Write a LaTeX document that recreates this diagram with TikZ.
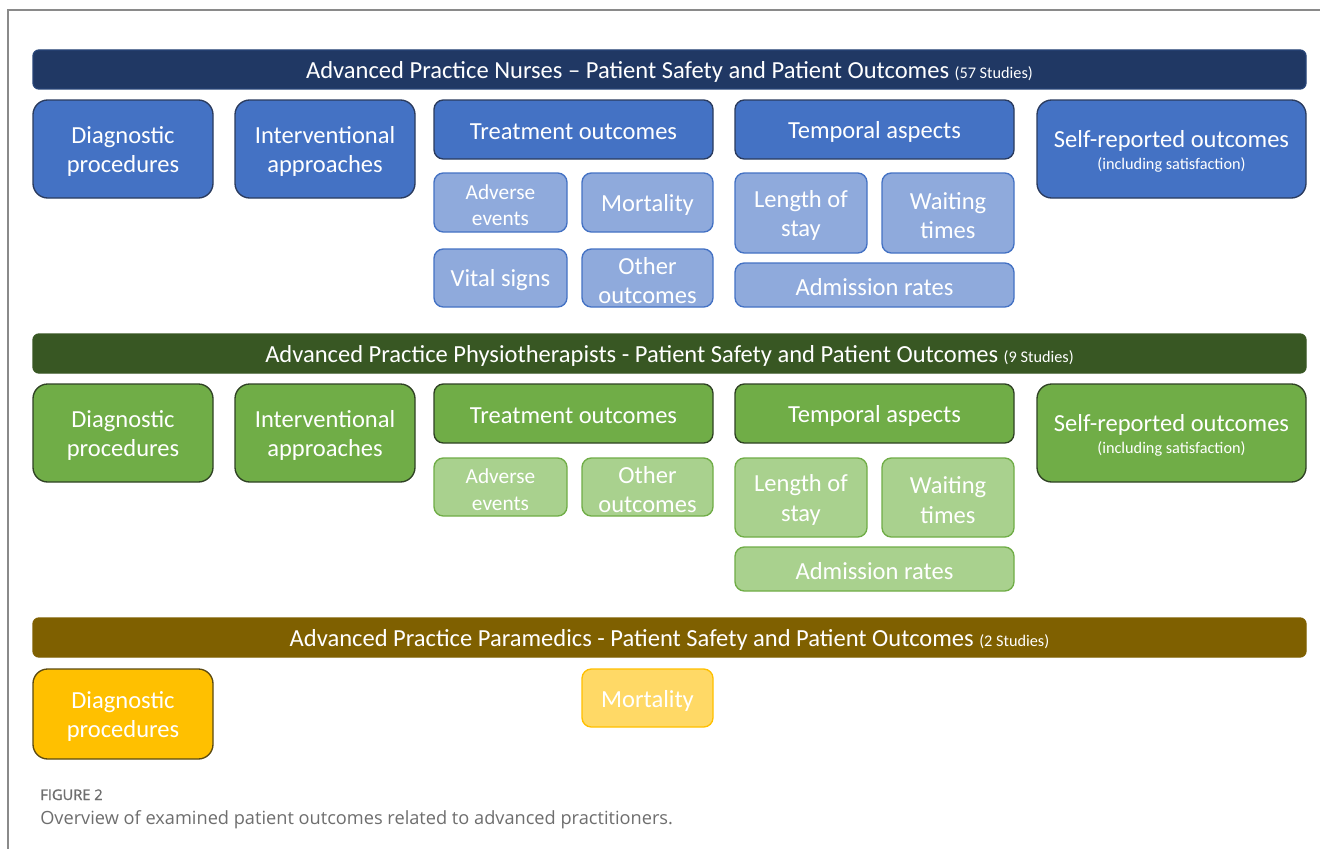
\documentclass[tikz,border=0pt]{standalone}
\usepackage{fontspec}
\setmainfont{Carlito}
\newfontfamily\capfont{Open Sans}
\newfontfamily\capfontb[FakeBold=1.2]{Open Sans}
\usepackage{xcolor}
\definecolor{navy}{HTML}{203864}
\definecolor{blueM}{HTML}{4472C4}
\definecolor{blueB}{HTML}{2A3B5E}
\definecolor{blueS}{HTML}{8FAADC}
\definecolor{greenH}{HTML}{385723}
\definecolor{greenM}{HTML}{70AD47}
\definecolor{greenB}{HTML}{2F4224}
\definecolor{greenS}{HTML}{A9D18E}
\definecolor{goldH}{HTML}{7F6000}
\definecolor{goldM}{HTML}{FFC000}
\definecolor{goldB}{HTML}{5C4A10}
\definecolor{goldS}{HTML}{FFD966}
\definecolor{frameC}{HTML}{8A8A8A}
\definecolor{capC}{HTML}{6E6E6E}
\newcommand\bx[7]{%
  \node[#2, minimum width={(#5-#3)*0.75pt}, minimum height={(#6-#4)*0.75pt}] (#1) at ({(#3+#5)/2},{(#4+#6)/2}) {};
  \node[#2, draw=none, fill=none, yshift=-1.9pt] (#1-t) at (#1.center) {#7};}
\tikzset{
  base/.style={inner sep=0pt, align=center, text=white, line width=1pt},
  hdr/.style={base, rounded corners=4.5pt, font=\fontsize{18.4}{22}\selectfont},
  mainbox/.style={base, rounded corners=11pt, font=\fontsize{18.4}{21.75}\selectfont},
  midbox/.style={base, rounded corners=7pt, font=\fontsize{18.4}{22}\selectfont},
  subbox/.style={base, rounded corners=7pt, font=\fontsize{18.4}{22}\selectfont},
  hN/.style={hdr, fill=navy, draw=navy!80!blueM},
  mB/.style={mainbox, fill=blueM, draw=blueB},
  tB/.style={midbox, fill=blueM, draw=blueB},
  sB/.style={subbox, fill=blueS, draw=blueM},
  hG/.style={hdr, fill=greenH, draw=greenH},
  mG/.style={mainbox, fill=greenM, draw=greenB},
  tG/.style={midbox, fill=greenM, draw=greenB},
  sG/.style={subbox, fill=greenS, draw=greenM},
  hY/.style={hdr, fill=goldH, draw=goldH},
  mY/.style={mainbox, fill=goldM, draw=goldB},
  sY/.style={subbox, fill=goldS, draw=goldM},
}
\newcommand\sm[1]{{\fontsize{12.2}{14}\selectfont #1}}
\newcommand\sa[1]{{\fontsize{16}{19.5}\selectfont #1}}
\begin{document}
\begin{tikzpicture}[x=0.75pt,y=-0.75pt]
\useasboundingbox (0,0) rectangle (1320,849);
\fill[white] (0,0) rectangle (1320,849);
\draw[frameC, line width=1.3pt] (8,849) -- (8,10) -- (1320,10);
% Nurses
\bx{h1}{hN}{33}{50}{1306}{89}{Advanced Practice Nurses -- Patient Safety and Patient Outcomes \sm{(57 Studies)}}
\bx{n1}{mB}{33}{100}{213}{198}{Diagnostic\\procedures}
\bx{n2}{mB}{235}{100}{415}{198}{Interventional\\approaches}
\bx{n3}{tB}{434}{100}{713}{159}{Treatment outcomes}
\bx{n4}{tB}{735}{100}{1014}{159}{Temporal aspects}
\bx{n5}{mB}{1037}{100}{1306}{198}{Self-reported outcomes\\[-5pt]\sm{(including satisfaction)}}
\bx{n6}{sB}{434}{173}{567}{232}{\sa{Adverse}\\[-2pt]\sa{events}}
\bx{n7}{sB}{582}{173}{713}{232}{Mortality}
\bx{n8}{sB}{434}{249}{567}{307}{Vital signs}
\bx{n9}{sB}{582}{249}{713}{307}{Other\\outcomes}
\bx{n10}{sB}{735}{173}{867}{253}{Length of\\stay}
\bx{n11}{sB}{882}{173}{1014}{253}{Waiting\\times}
\bx{n12}{sB}{735}{263}{1014}{307}{Admission rates}
% Physiotherapists
\bx{h2}{hG}{33}{334}{1306}{373}{Advanced Practice Physiotherapists - Patient Safety and Patient Outcomes \sm{(9 Studies)}}
\bx{p1}{mG}{33}{384}{213}{482}{Diagnostic\\procedures}
\bx{p2}{mG}{235}{384}{415}{482}{Interventional\\approaches}
\bx{p3}{tG}{434}{384}{713}{443}{Treatment outcomes}
\bx{p4}{tG}{735}{384}{1014}{443}{Temporal aspects}
\bx{p5}{mG}{1037}{384}{1306}{482}{Self-reported outcomes\\[-5pt]\sm{(including satisfaction)}}
\bx{p6}{sG}{434}{458}{567}{516}{\sa{Adverse}\\[-2pt]\sa{events}}
\bx{p7}{sG}{582}{458}{713}{516}{Other\\outcomes}
\bx{p8}{sG}{735}{458}{867}{537}{Length of\\stay}
\bx{p9}{sG}{882}{458}{1014}{537}{Waiting\\times}
\bx{p10}{sG}{735}{547}{1014}{591}{Admission rates}
% Paramedics
\bx{h3}{hY}{33}{618}{1306}{657}{Advanced Practice Paramedics - Patient Safety and Patient Outcomes \sm{(2 Studies)}}
\bx{m1}{mY}{33}{669}{213}{759}{Diagnostic\\procedures}
\bx{m2}{sY}{582}{669}{713}{727}{Mortality}
% caption
\node[anchor=base west, inner sep=0pt, text=capC, font=\capfontb\fontsize{11}{13}\selectfont] (c1) at (40,800) {FIGURE 2};
\node[anchor=base west, inner sep=0pt, text=capC, font=\capfont\fontsize{13.65}{16}\selectfont] (c2) at (40,824) {Overview of examined patient outcomes related to advanced practitioners.};
\end{tikzpicture}
\end{document}
